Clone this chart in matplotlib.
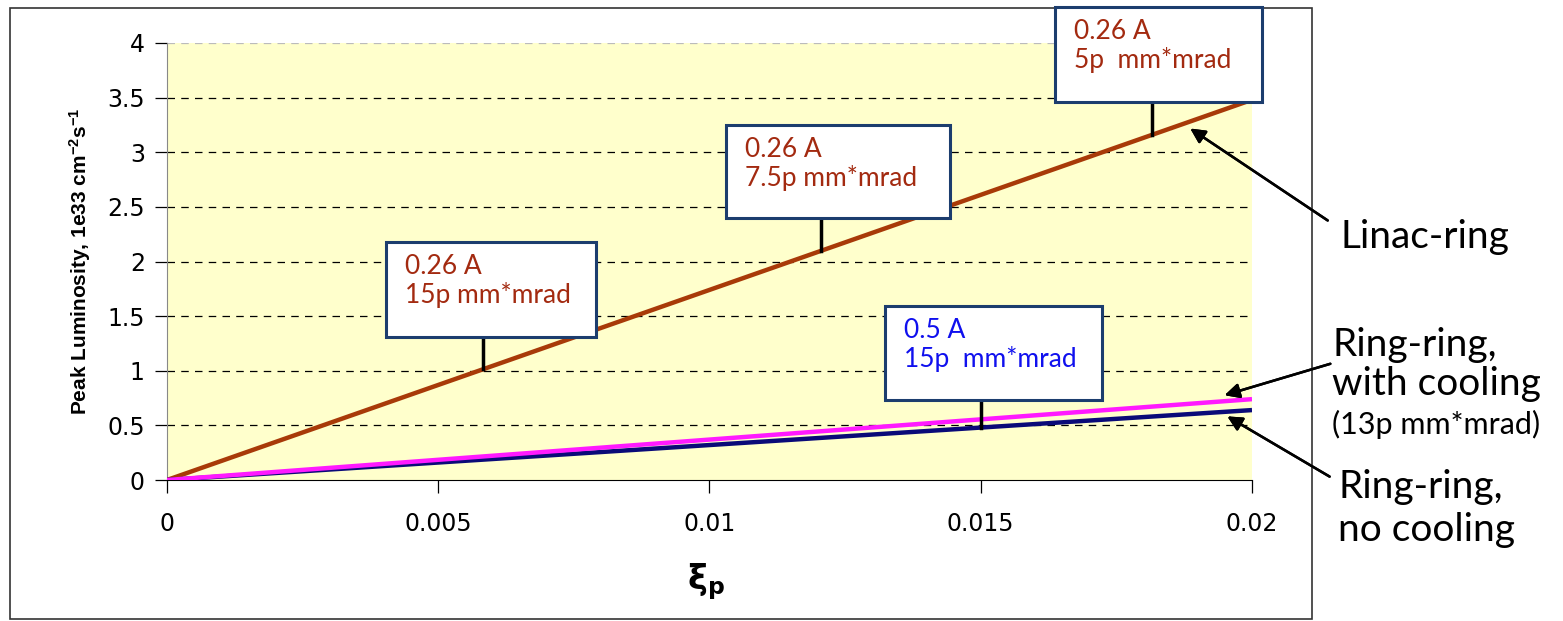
import matplotlib.pyplot as plt
from matplotlib.patches import Rectangle

# peak luminosity (1e33 cm^-2 s^-1) vs beam-beam parameter xi_p
xi = [0.0, 0.005, 0.01, 0.015, 0.02]
linac_ring = [0.0, 0.87, 1.74, 2.61, 3.48]
ring_cool = [0.0, 0.185, 0.37, 0.555, 0.74]
ring_nocool = [0.0, 0.16, 0.32, 0.48, 0.64]

xtick_vals = [0, 0.005, 0.01, 0.015, 0.02]
xtick_labels = ['0', '0.005', '0.01', '0.015', '0.02']
ytick_vals = [0, 0.5, 1, 1.5, 2, 2.5, 3, 3.5, 4]
ytick_labels = ['0', '0.5', '1', '1.5', '2', '2.5', '3', '3.5', '4']

plt.rcParams['mathtext.default'] = 'regular'
plt.rcParams['xtick.labelsize'] = 17
plt.rcParams['ytick.labelsize'] = 17

W, H = 1563, 621
fig = plt.figure(figsize=(W / 100, H / 100), dpi=100)
ax = fig.add_axes([167 / W, 1 - 480 / H, 1085 / W, 437 / H])


def px(x, y):
    return (x / W, 1 - y / H)


ax.set_facecolor('#ffffcc')
ax.plot(xi, linac_ring, color='#a83a08', lw=3.2, solid_capstyle='butt', zorder=3)
ax.plot(xi, ring_nocool, color='#0a0a78', lw=3.2, solid_capstyle='butt', zorder=3)
ax.plot(xi, ring_cool, color='#ff1aff', lw=3.2, solid_capstyle='butt', zorder=4)

ax.set_xlim(0, 0.02)
ax.set_ylim(0, 4)
ax.set_xticks(xtick_vals, xtick_labels)
ax.set_yticks(ytick_vals, ytick_labels)
for y in ytick_vals[1:-1]:
    ax.axhline(y, color='black', lw=0.9, ls=(0, (6, 5)), zorder=1)
ax.axhline(4, color='#bbbbbb', lw=0.9, ls=(0, (6, 5)), zorder=1)

for s in ['top', 'right']:
    ax.spines[s].set_visible(False)
ax.spines['left'].set_color('#888888')
ax.spines['bottom'].set_color('black')
ax.tick_params(direction='out', length=9, width=0.9, pad=7, labelsize=17)
ax.tick_params(axis='x', pad=14)
for lab in ax.get_xticklabels() + ax.get_yticklabels():
    lab.set_fontsize(17)

ax.set_ylabel('Peak Luminosity, 1e33 cm$^{-2}$s$^{-1}$', fontsize=15,
              fontweight='bold', family='Liberation Sans', labelpad=10)
fig.text(*px(706, 582), r'$\mathbf{\xi}_{\mathbf{p}}$', fontsize=24,
         ha='center', va='center')

# callout boxes with a pointer down to the curve
ann_font = ['Lato', 'DejaVu Sans']
callouts = [
    (386, 242, 210, 95, '0.26 A\n15p mm*mrad', '#a32a10', 0.00582, linac_ring),
    (726, 125, 224, 93, '0.26 A\n7.5p mm*mrad', '#a32a10', 0.01205, linac_ring),
    (1055, 7, 207, 95, '0.26 A\n5p  mm*mrad', '#a32a10', 0.01816, linac_ring),
    (885, 306, 217, 94, '0.5 A\n15p  mm*mrad', '#1010ee', 0.0150, ring_nocool),
]
for bx, by, bw, bh, txt, col, xp, series in callouts:
    x0, y1 = px(bx, by + bh)
    fig.patches.append(Rectangle((x0, y1), bw / W, bh / H, transform=fig.transFigure,
                                 facecolor='white', edgecolor='#1c3d6e', lw=2.2,
                                 zorder=5))
    fig.text(*px(bx + 19, by + 12), txt, color=col, fontsize=19, family=ann_font,
             ha='left', va='top', linespacing=1.15, zorder=6)
    yv = series[-1] / xi[-1] * xp
    ytop = (480 - (by + bh - 10)) / 437 * 4
    ax.plot([xp, xp], [yv, ytop], color='black', lw=2.5, zorder=6, clip_on=False)

# labels on the right with arrows
side_font = ['Lato', 'DejaVu Sans']
side_labels = [
    (1340, 237, 'Linac-ring', 28),
    (1332, 345, 'Ring-ring,', 28),
    (1332, 384, 'with cooling', 28),
    (1332, 424, '(13p mm*mrad)', 22),
    (1338, 487, 'Ring-ring,', 28),
    (1338, 530, 'no cooling', 28),
]
for sx, sy, txt, fs in side_labels:
    fig.text(*px(sx, sy), txt, fontsize=fs, family=side_font,
             ha='left', va='center')

arrows = [((1330, 222), (1188, 127)), ((1333, 363), (1222, 396)),
          ((1332, 478), (1225, 415))]
for (sx, sy), (ex, ey) in arrows:
    fig.add_artist(plt.annotate('', xy=px(ex, ey), xytext=px(sx, sy),
                                xycoords='figure fraction',
                                textcoords='figure fraction',
                                arrowprops=dict(arrowstyle='-|>', color='black',
                                                lw=1.8, mutation_scale=22)))

# outer frame
fig.patches.append(Rectangle(px(10, 619), 1302 / W, 611 / H,
                             transform=fig.transFigure, fill=False,
                             edgecolor='#333333', lw=1.2))

fig.savefig('out.png', dpi=100)
